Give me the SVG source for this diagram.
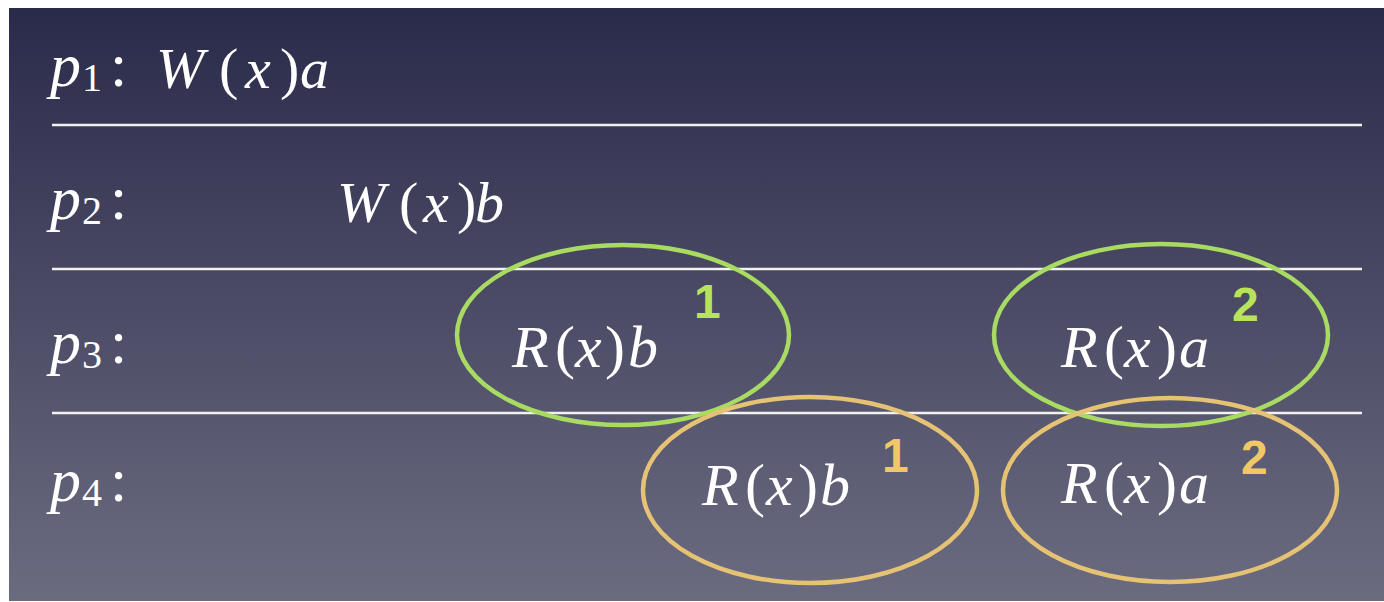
<svg xmlns="http://www.w3.org/2000/svg" width="1384" height="602" viewBox="0 0 1384 602" style="font-family: 'Liberation Serif', 'Times New Roman', serif">
<defs>
<linearGradient id="bg" x1="0" y1="0" x2="0" y2="1">
<stop offset="0" stop-color="#2a2b4a"/>
<stop offset="0.5" stop-color="#4b4b66"/>
<stop offset="1" stop-color="#6b6b80"/>
</linearGradient>
</defs>
<rect width="1384" height="602" fill="#ffffff"/>
<rect x="9" y="8" width="1375" height="593" fill="url(#bg)"/>
<g id="separators" stroke="#f2f2f2" stroke-width="2.5">
<line x1="52" y1="125" x2="1362" y2="125"/>
<line x1="52" y1="269" x2="1362" y2="269"/>
<line x1="52" y1="413" x2="1362" y2="413"/>
</g>
<g id="label-p1" fill="#ffffff" font-family="Liberation Serif" style="font-family: 'Liberation Serif', serif">
<text x="50" y="86" font-style="italic" font-size="62">p</text>
<text x="82" y="91" font-size="40">1</text>
<text x="110" y="86" font-size="62">:</text>
</g>
<g id="label-p2" fill="#ffffff" font-family="Liberation Serif" style="font-family: 'Liberation Serif', serif">
<text x="50" y="219" font-style="italic" font-size="62">p</text>
<text x="82" y="224" font-size="40">2</text>
<text x="110" y="219" font-size="62">:</text>
</g>
<g id="label-p3" fill="#ffffff" font-family="Liberation Serif" style="font-family: 'Liberation Serif', serif">
<text x="50" y="363" font-style="italic" font-size="62">p</text>
<text x="82" y="368" font-size="40">3</text>
<text x="110" y="363" font-size="62">:</text>
</g>
<g id="label-p4" fill="#ffffff" font-family="Liberation Serif" style="font-family: 'Liberation Serif', serif">
<text x="50" y="501" font-style="italic" font-size="62">p</text>
<text x="82" y="506" font-size="40">4</text>
<text x="110" y="501" font-size="62">:</text>
</g>
<g id="w1" fill="#ffffff" font-size="58" font-family="Liberation Serif" style="font-family: 'Liberation Serif', serif">
<text x="156" y="88" font-style="italic">W</text>
<text x="219" y="88">(</text>
<text x="245" y="88" font-style="italic">x</text>
<text x="280" y="88">)</text>
<text x="300" y="88" font-style="italic">a</text>
</g>
<g id="w2" fill="#ffffff" font-size="58" font-family="Liberation Serif" style="font-family: 'Liberation Serif', serif">
<text x="337" y="222" font-style="italic">W</text>
<text x="399" y="222">(</text>
<text x="423" y="222" font-style="italic">x</text>
<text x="457" y="222">)</text>
<text x="475" y="222" font-style="italic">b</text>
</g>
<g id="r3b" fill="#ffffff" font-size="60" font-family="Liberation Serif" style="font-family: 'Liberation Serif', serif">
<ellipse cx="623" cy="335" rx="166" ry="90" fill="none" stroke="#a9da62" stroke-width="4.5"/>
<text x="512" y="367" font-style="italic">R</text>
<text x="555" y="367">(</text>
<text x="575" y="367" font-style="italic">x</text>
<text x="605" y="367">)</text>
<text x="628" y="367" font-style="italic">b</text>
<text x="694" y="318" font-family="Liberation Sans" style="font-family: 'Liberation Sans', sans-serif" font-weight="bold" font-size="48" fill="#b8e35a">1</text>
</g>
<g id="r3a" fill="#ffffff" font-size="60" font-family="Liberation Serif" style="font-family: 'Liberation Serif', serif">
<ellipse cx="1161" cy="335" rx="167" ry="91" fill="none" stroke="#a9da62" stroke-width="4.5"/>
<text x="1061" y="367" font-style="italic">R</text>
<text x="1104" y="367">(</text>
<text x="1124" y="367" font-style="italic">x</text>
<text x="1157" y="367">)</text>
<text x="1179" y="367" font-style="italic">a</text>
<text x="1232" y="321" font-family="Liberation Sans" style="font-family: 'Liberation Sans', sans-serif" font-weight="bold" font-size="48" fill="#b8e35a">2</text>
</g>
<g id="r4b" fill="#ffffff" font-size="60" font-family="Liberation Serif" style="font-family: 'Liberation Serif', serif">
<ellipse cx="810" cy="490" rx="167" ry="93" fill="none" stroke="#e6c274" stroke-width="4.5"/>
<text x="702" y="505" font-style="italic">R</text>
<text x="745" y="505">(</text>
<text x="766" y="505" font-style="italic">x</text>
<text x="798" y="505">)</text>
<text x="820" y="505" font-style="italic">b</text>
<text x="882" y="472" font-family="Liberation Sans" style="font-family: 'Liberation Sans', sans-serif" font-weight="bold" font-size="48" fill="#f0c868">1</text>
</g>
<g id="r4a" fill="#ffffff" font-size="60" font-family="Liberation Serif" style="font-family: 'Liberation Serif', serif">
<ellipse cx="1170" cy="490" rx="167" ry="92" fill="none" stroke="#e6c274" stroke-width="4.5"/>
<text x="1061" y="503" font-style="italic">R</text>
<text x="1104" y="503">(</text>
<text x="1124" y="503" font-style="italic">x</text>
<text x="1157" y="503">)</text>
<text x="1179" y="503" font-style="italic">a</text>
<text x="1241" y="474" font-family="Liberation Sans" style="font-family: 'Liberation Sans', sans-serif" font-weight="bold" font-size="48" fill="#f0c868">2</text>
</g>
</svg>
